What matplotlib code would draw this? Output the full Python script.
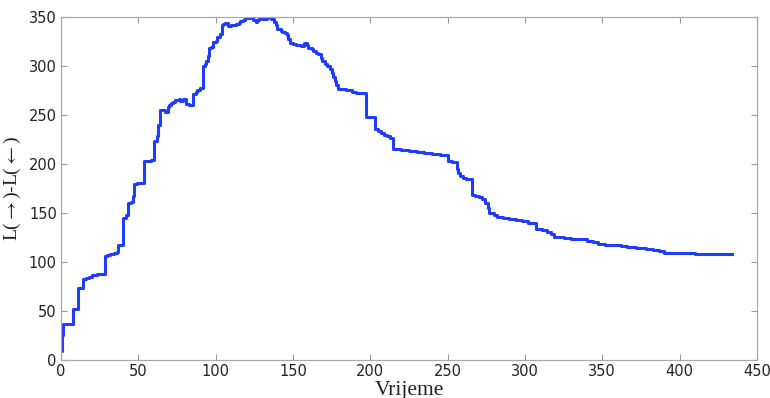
import matplotlib
matplotlib.use("Agg")
import matplotlib.pyplot as plt

plt.rcParams["mathtext.fontset"] = "stix"

# step series: time at which each value starts, and the value
time = [0, 0.5, 1, 8, 11, 14, 16, 18, 20, 23, 26, 28.6, 30, 32, 34, 36, 37, 40, 42, 43.5,
        45, 46.5, 47.5, 49, 51, 54, 56, 58, 60, 62, 63, 64, 66, 67.5, 69, 70, 71, 72.5, 74, 76,
        77, 79, 81, 83, 85.5, 87, 88, 90, 92, 93, 94, 95, 96, 97, 98, 100, 101, 102.5, 104, 105,
        106, 108, 110, 111, 113, 115, 116, 118, 119, 121, 122, 124, 126, 127, 128, 130, 131, 133, 135, 136,
        138, 139, 140, 142, 143, 145, 146, 147, 148, 150, 152, 155, 157, 159, 160, 162, 163, 165,
        166, 168, 169, 171, 172, 174, 175, 176, 177, 178, 179, 182, 184, 188, 191, 197, 203, 205,
        207, 209, 211, 213, 215, 220, 225, 230, 235, 240, 245, 250, 253, 256, 257, 258, 260, 262,
        266, 268, 270, 272, 274, 276, 277, 280, 282, 286, 290, 294, 298, 302, 307, 311, 314, 317,
        319, 325, 330, 335, 340, 344, 347, 352, 358, 362, 366, 372, 378, 383, 387, 390, 400, 410,
        420, 434]
value = [9, 25, 37, 52, 73, 83, 84, 85, 87, 87.5, 88, 106, 107, 108, 109, 110, 117, 145, 148, 160,
         161, 167, 180, 180.5, 181, 203, 203.5, 204, 224, 229, 240, 255, 255, 253, 258, 260, 262, 263, 265, 266,
         264, 266, 261, 260, 272, 274, 276, 278, 300, 302, 305, 310, 318, 320, 325, 326, 330, 333, 342, 343,
         344, 341, 341.5, 342, 343, 344, 346, 347, 349, 349.5, 350, 347, 345, 347, 349, 348, 348.5, 350, 349, 348,
         345, 342, 338, 336, 335, 334, 332, 328, 324, 323, 322, 321, 324, 322, 318, 317, 315, 313,
         312, 308, 305, 302, 300, 297, 293, 289, 285, 281, 277, 276.5, 276, 274, 273, 248, 236, 234,
         232, 230, 229, 227, 215, 214, 213, 212, 211, 210, 209, 203, 202, 195, 191, 188, 186, 185,
         168, 167, 166, 164, 160, 155, 150, 148, 146, 145, 144, 143, 142, 140, 134, 133, 131, 129,
         126, 125, 124, 123, 121, 120, 118, 117.5, 117, 116, 115, 114.5, 113, 112, 111, 109, 108.8, 108.5,
         108.3, 108]

xticks = [0, 50, 100, 150, 200, 250, 300, 350, 400, 450]
yticks = [0, 50, 100, 150, 200, 250, 300, 350]

fig = plt.figure(figsize=(7.7, 3.98), dpi=100)
ax = fig.add_axes([0.0792, 0.0955, 0.9038, 0.8615])
ax.plot(time, value, drawstyle="steps-post", color="#1f3cff", lw=2.2)
ax.set_xlim(0, 450)
ax.set_ylim(0, 350)
ax.set_xticks(xticks)
ax.set_yticks(yticks)
ax.tick_params(direction="in", top=True, right=True, length=4, color="#999999",
               labelsize=10.5, pad=3, width=0.8, labelcolor="#222222")
for lab in ax.get_xticklabels() + ax.get_yticklabels():
    lab.set_family(["DejaVu Sans"])
for s in ax.spines.values():
    s.set_color("#aaaaaa")
    s.set_linewidth(0.9)
ax.set_xlabel("Vrijeme", family=["Liberation Serif", "DejaVu Serif"], fontsize=15.5,
              labelpad=1, color="#222222")
ax.set_ylabel(r"L($\rightarrow$)-L($\leftarrow$)", family=["Liberation Serif", "DejaVu Serif"],
              fontsize=14, labelpad=4, color="#222222")
fig.savefig("out.png", dpi=100)
